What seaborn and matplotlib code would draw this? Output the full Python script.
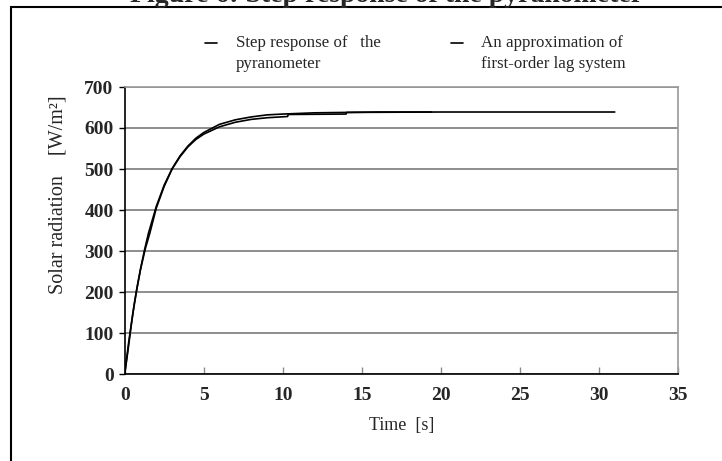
import numpy as np
import pandas as pd
import matplotlib
matplotlib.use("Agg")
import matplotlib.pyplot as plt
import seaborn as sns
from matplotlib.patches import Rectangle

# ---- data ----
t_meas = [0, 0.2, 0.4, 0.6, 0.8, 1.0, 1.3, 1.6, 2.0, 2.5, 3.0, 3.5, 4.0, 4.5, 5.0,
          6.0, 7.0, 8.0, 9.0, 10.3, 10.35, 14.0, 14.05, 20.0, 25.0, 31.0]
y_meas = [0, 55, 115, 170, 215, 255, 305, 345, 405, 458, 500, 530, 554, 572, 585,
          603, 614, 621, 625, 628, 633, 634, 638, 639, 639, 639]

t_appr = [0, 0.25, 0.5, 0.75, 1.0, 1.25, 1.5, 2.0, 2.5, 3.0, 3.5, 4.0, 4.5, 5.0,
          6.0, 7.0, 8.0, 9.0, 10.0, 12.0, 14.0, 16.0, 19.4]
y_appr = [0, 77, 144, 203, 256, 302, 343, 409, 461, 501, 532, 556, 575, 589,
          609, 620, 627, 632, 634, 637, 638, 639, 639]

series_names = ["Step response of   the\npyranometer",
                "An approximation of\nfirst-order lag system"]
x_ticks = [0, 5, 10, 15, 20, 25, 30, 35]
y_ticks = [0, 100, 200, 300, 400, 500, 600, 700]
title = "Figure 6: Step response of the pyranometer"
x_label = "Time  [s]"
y_label = "Solar radiation    [W/m\u00b2]"

df = pd.concat([
    pd.DataFrame({"t": t_meas, "y": y_meas, "series": series_names[0]}),
    pd.DataFrame({"t": t_appr, "y": y_appr, "series": series_names[1]}),
], ignore_index=True)

sns.set_style("white")
plt.rcParams["font.family"] = ["Liberation Serif", "DejaVu Serif"]

fig = plt.figure(figsize=(7.22, 4.61), dpi=100)
ax = fig.add_axes([124.7 / 722, 1 - 374 / 461, (678 - 124.7) / 722, (374 - 87) / 461])

sns.lineplot(data=df, x="t", y="y", hue="series", hue_order=series_names,
             palette=["black", "black"], linewidth=1.2, sort=False,
             estimator=None, ax=ax, legend=True)

ax.set_xlim(0, 35)
ax.set_ylim(0, 700)
ax.set_xticks(x_ticks)
ax.set_yticks(y_ticks)
ax.set_xticklabels([str(v) for v in x_ticks], fontsize=14, fontweight="bold")
ax.set_yticklabels([str(v) for v in y_ticks], fontsize=14, fontweight="bold")
ax.grid(axis="y", color="#7a7a7a", linewidth=1.2)
ax.grid(axis="x", visible=False)
ax.set_axisbelow(True)

for s in ["top", "right"]:
    ax.spines[s].set_color("#9a9a9a")
    ax.spines[s].set_linewidth(1.2)
for s in ["left", "bottom"]:
    ax.spines[s].set_color("black")
    ax.spines[s].set_linewidth(1.2)

ax.tick_params(axis="y", direction="out", length=4, width=1, color="black", pad=4, left=True)
ax.tick_params(axis="x", direction="in", length=5, width=1, color="#8a8a8a", pad=9, bottom=True)

ax.set_xlabel(x_label, fontsize=13, labelpad=10)
ax.set_ylabel(y_label, fontsize=14.5)
ax.yaxis.set_label_coords(-0.1025, 0.625)

# legend
handles, labels = ax.get_legend_handles_labels()
ax.get_legend().remove()
leg = fig.legend(handles, labels, loc="upper left", bbox_to_anchor=(0.263, 0.958),
                 ncol=2, frameon=False, fontsize=12.2, handlelength=0.7,
                 handleheight=1.5, handletextpad=1.1, columnspacing=4.15)
for txt in leg.get_texts():
    txt.set_linespacing(1.45)
for hp in leg._legend_handle_box.get_children():
    for c in hp.get_children():
        c.align = "top"

# title (partially clipped above figure) and frame
fig.text(0.535, 1 - 1.5 / 461, title, ha="center", va="baseline",
         fontsize=20, fontweight="bold")
fig.patches.append(Rectangle((10.5 / 722, -0.1), 1.2, 1.1 - 7 / 461,
                             transform=fig.transFigure, fill=False,
                             edgecolor="black", linewidth=1.5))

fig.savefig("out.png", dpi=100)
